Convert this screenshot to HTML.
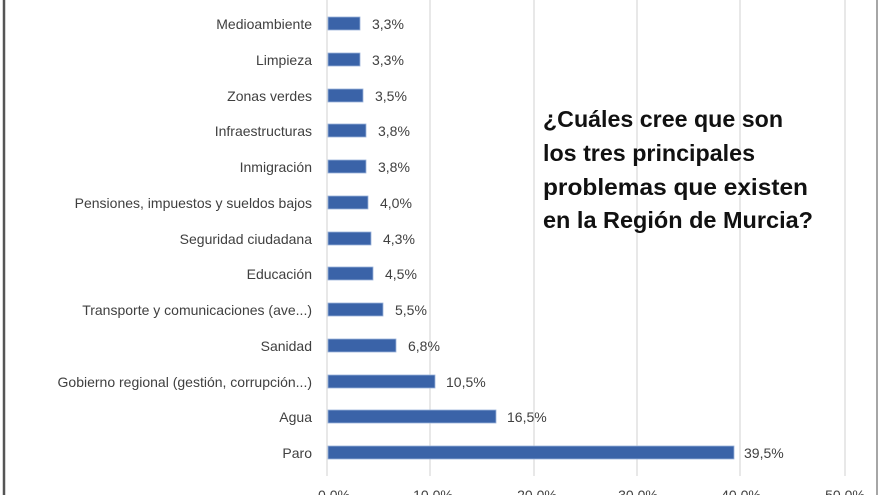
<!DOCTYPE html>
<html><head><meta charset="utf-8"><style>
html,body{margin:0;padding:0;background:#fff;width:880px;height:495px;overflow:hidden}
svg{display:block}
</style></head><body>
<svg width="880" height="495" xmlns="http://www.w3.org/2000/svg" font-family="Liberation Sans, DejaVu Sans, sans-serif">
<rect x="0" y="0" width="880" height="495" fill="#fff"/>
<line x1="4" y1="0" x2="4" y2="495" stroke="#555" stroke-width="2.5"/>
<line x1="877" y1="0" x2="877" y2="495" stroke="#888" stroke-width="1.5"/>
<g stroke="#d9d9d9" stroke-width="1.2">
<line x1="327" y1="0" x2="327" y2="476"/>
<line x1="430" y1="0" x2="430" y2="476"/>
<line x1="534" y1="0" x2="534" y2="476"/>
<line x1="637" y1="0" x2="637" y2="476"/>
<line x1="740" y1="0" x2="740" y2="476"/>
<line x1="845" y1="0" x2="845" y2="476"/>
</g>
<g fill="#3a63a8" stroke="#9bb3da" stroke-width="0.8">
<rect x="328" y="17" width="32" height="13"/>
<rect x="328" y="53" width="32" height="13"/>
<rect x="328" y="89" width="35" height="13"/>
<rect x="328" y="124" width="38" height="13"/>
<rect x="328" y="160" width="38" height="13"/>
<rect x="328" y="196" width="40" height="13"/>
<rect x="328" y="232" width="43" height="13"/>
<rect x="328" y="267" width="45" height="13"/>
<rect x="328" y="303" width="55" height="13"/>
<rect x="328" y="339" width="68" height="13"/>
<rect x="328" y="375" width="107" height="13"/>
<rect x="328" y="410" width="168" height="13"/>
<rect x="328" y="446" width="406" height="13"/>
</g>
<g font-size="14" fill="#404040" text-anchor="end">
<text x="312" y="29">Medioambiente</text>
<text x="312" y="65">Limpieza</text>
<text x="312" y="101">Zonas verdes</text>
<text x="312" y="136">Infraestructuras</text>
<text x="312" y="172">Inmigración</text>
<text x="312" y="208">Pensiones, impuestos y sueldos bajos</text>
<text x="312" y="244">Seguridad ciudadana</text>
<text x="312" y="279">Educación</text>
<text x="312" y="315">Transporte y comunicaciones (ave...)</text>
<text x="312" y="351">Sanidad</text>
<text x="312" y="387">Gobierno regional (gestión, corrupción...)</text>
<text x="312" y="422">Agua</text>
<text x="312" y="458">Paro</text>
</g>
<g font-size="14" fill="#404040">
<text x="372" y="29">3,3%</text>
<text x="372" y="65">3,3%</text>
<text x="375" y="101">3,5%</text>
<text x="378" y="136">3,8%</text>
<text x="378" y="172">3,8%</text>
<text x="380" y="208">4,0%</text>
<text x="383" y="244">4,3%</text>
<text x="385" y="279">4,5%</text>
<text x="395" y="315">5,5%</text>
<text x="408" y="351">6,8%</text>
<text x="446" y="387">10,5%</text>
<text x="507" y="422">16,5%</text>
<text x="744" y="458">39,5%</text>
</g>
<g font-size="14" fill="#404040" text-anchor="middle">
<text x="334" y="500">0,0%</text>
<text x="433" y="500">10,0%</text>
<text x="537" y="500">20,0%</text>
<text x="638" y="500">30,0%</text>
<text x="741" y="500">40,0%</text>
<text x="845" y="500">50,0%</text>
</g>
<g font-size="23" font-weight="bold" fill="#111">
<text x="543" y="127" textLength="240" lengthAdjust="spacingAndGlyphs">¿Cuáles cree que son</text>
<text x="543" y="161" textLength="212" lengthAdjust="spacingAndGlyphs">los tres principales</text>
<text x="543" y="195" textLength="265" lengthAdjust="spacingAndGlyphs">problemas que existen</text>
<text x="543" y="228" textLength="270" lengthAdjust="spacingAndGlyphs">en la Región de Murcia?</text>
</g>
</svg>
</body></html>
